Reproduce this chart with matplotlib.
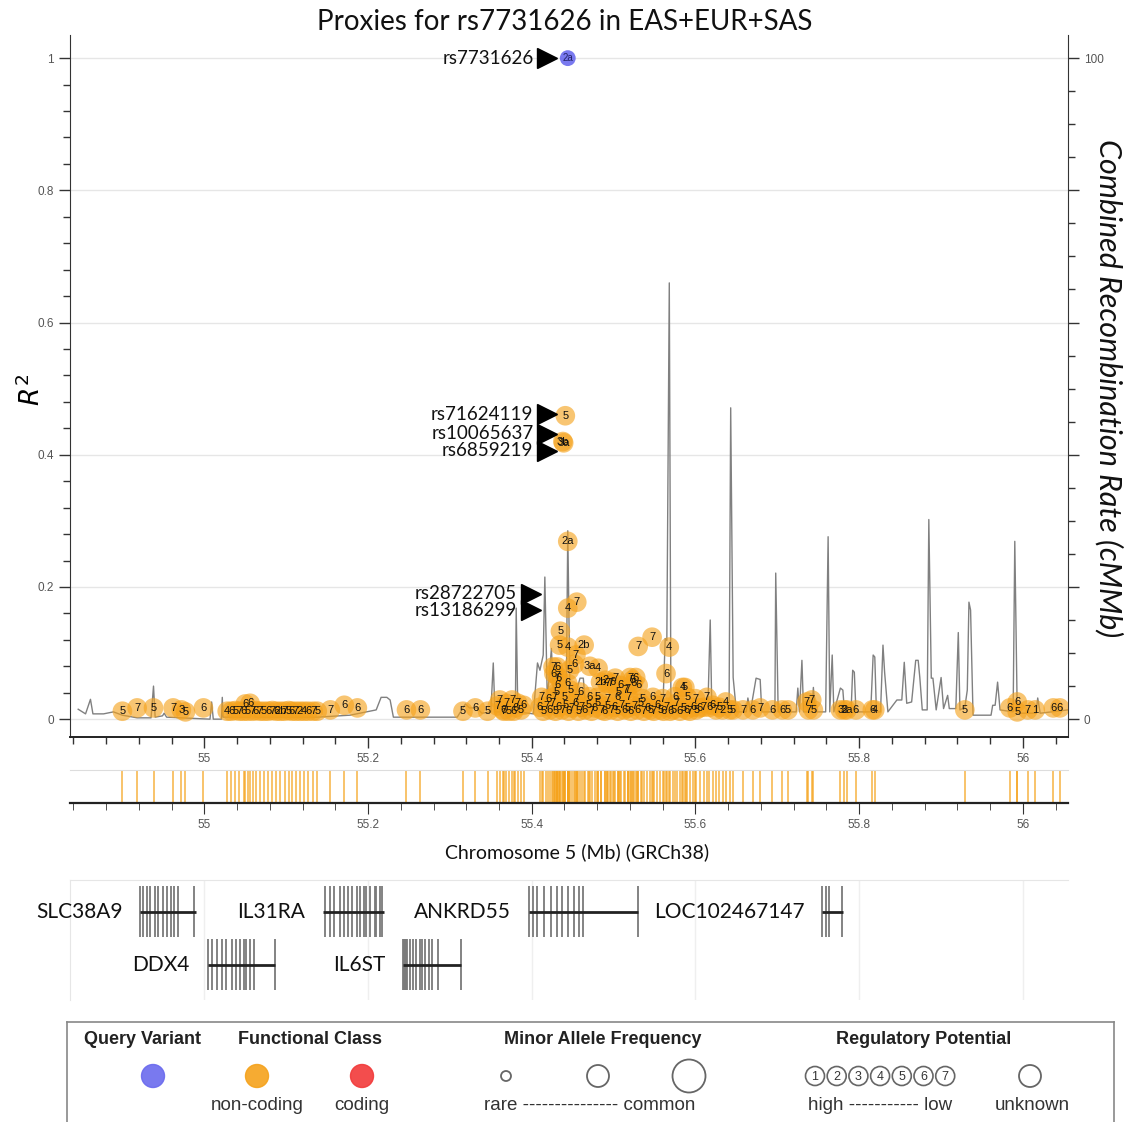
import matplotlib.pyplot as plt
from matplotlib.patches import Circle
from matplotlib.ticker import MultipleLocator

plt.rcParams['font.family'] = ['Lato', 'DejaVu Sans']
plt.rcParams['mathtext.fontset'] = 'dejavusans'

# recombination rate (cM/Mb) along chr5 (Mb)
recomb_pos = [54.846, 54.855, 54.861, 54.864, 54.877, 54.889, 54.900, 54.918, 54.935, 54.938, 54.940,
              54.949, 54.951, 54.954, 55.007, 55.009, 55.011, 55.021, 55.022, 55.023, 55.056, 55.060,
              55.062, 55.138, 55.178, 55.210, 55.216, 55.223, 55.227, 55.231, 55.309, 55.319, 55.324,
              55.333, 55.339, 55.350, 55.353, 55.355, 55.380, 55.381, 55.383, 55.402, 55.407, 55.410,
              55.414, 55.416, 55.419, 55.424, 55.427, 55.442, 55.444, 55.447, 55.459, 55.463, 55.466,
              55.508, 55.560, 55.563, 55.565, 55.568, 55.570, 55.615, 55.618, 55.620, 55.641, 55.643,
              55.646, 55.650, 55.662, 55.664, 55.667, 55.674, 55.679, 55.681, 55.697, 55.698, 55.701,
              55.723, 55.725, 55.727, 55.730, 55.732, 55.742, 55.744, 55.746, 55.759, 55.762, 55.764,
              55.767, 55.769, 55.777, 55.780, 55.782, 55.790, 55.792, 55.794, 55.796, 55.814, 55.817,
              55.819, 55.821, 55.826, 55.829, 55.831, 55.835, 55.846, 55.852, 55.855, 55.858, 55.864,
              55.869, 55.872, 55.874, 55.877, 55.883, 55.885, 55.888, 55.890, 55.894, 55.900, 55.903,
              55.908, 55.910, 55.918, 55.921, 55.923, 55.929, 55.932, 55.934, 55.936, 55.939, 55.961,
              55.963, 55.966, 55.969, 55.972, 55.988, 55.990, 55.993, 56.016, 56.018, 56.021, 56.055]
recomb_rate = [1.5, 0.8, 3.0, 0.8, 0.8, 1.1, 0.6, 0.2, 0.2, 5.0, 0.3,
               0.5, 0.9, 0.3, 0.0, 2.6, 0.0, 0.0, 3.3, 0.3, 0.3, 2.9,
               0.3, 0.3, 0.6, 1.4, 3.3, 3.3, 2.9, 0.3, 0.3, 2.3, 1.7,
               1.7, 0.9, 1.1, 8.5, 1.1, 1.1, 16.8, 1.1, 0.8, 8.5, 7.4,
               9.7, 21.5, 2.9, 10.7, 2.9, 1.1, 28.5, 1.1, 6.2, 6.2, 1.1,
               1.1, 1.1, 12.2, 11.9, 66.0, 1.1, 1.1, 15.0, 1.1, 1.1, 47.1,
               6.3, 1.1, 1.1, 3.2, 1.1, 6.2, 6.0, 1.1, 1.1, 22.1, 1.1,
               1.1, 4.7, 1.1, 8.9, 1.1, 1.1, 4.8, 1.1, 1.1, 27.6, 1.1,
               9.7, 1.1, 4.7, 4.4, 1.1, 1.1, 7.4, 7.1, 1.1, 1.1, 9.7,
               9.4, 1.1, 1.1, 11.2, 7.1, 1.1, 2.9, 2.9, 8.6, 2.4, 2.6,
               8.9, 8.9, 6.3, 1.4, 1.4, 30.2, 6.2, 6.2, 1.4, 6.3, 1.6,
               3.6, 1.6, 1.6, 13.1, 1.4, 1.8, 4.4, 17.7, 16.5, 0.6, 0.6,
               2.1, 2.1, 5.6, 1.4, 1.1, 26.9, 0.9, 0.9, 3.2, 0.9, 1.4]

# query variant
query_name = 'rs7731626'
query_pos = 55.444
query_r2 = 1.0
query_rc = '2a'

# proxy variants: position (Mb), R2, RegulomeDB code
proxy_pos = [
    54.900, 54.918, 54.938, 54.962, 54.972, 54.977, 54.999,
    55.028, 55.033, 55.038, 55.043, 55.048, 55.050, 55.053, 55.056, 55.059, 55.063, 55.068,
    55.073, 55.078, 55.083, 55.088, 55.093, 55.098, 55.103, 55.107, 55.112, 55.117, 55.122,
    55.127, 55.133, 55.138,
    55.154, 55.171, 55.187, 55.247, 55.264, 55.316, 55.331, 55.346,
    55.358, 55.361, 55.365, 55.369, 55.372, 55.376, 55.380, 55.383, 55.387, 55.390, 55.366, 55.378,
    55.441, 55.438, 55.439, 55.444, 55.444, 55.455, 55.435, 55.434, 55.444, 55.464, 55.454,
    55.452, 55.446, 55.471, 55.481, 55.530, 55.547, 55.568, 55.564, 55.584, 55.587,
    55.426, 55.427, 55.431, 55.431, 55.431, 55.431, 55.433, 55.444, 55.447, 55.459,
    55.484, 55.490, 55.492, 55.496, 55.499, 55.502, 55.508, 55.514, 55.520, 55.523, 55.524,
    55.527, 55.530, 55.506, 55.517,
    55.410, 55.414, 55.418, 55.422, 55.425, 55.429, 55.433, 55.437, 55.441, 55.445, 55.449,
    55.453, 55.457, 55.461, 55.465, 55.469, 55.473, 55.477, 55.481, 55.485, 55.489, 55.493,
    55.497, 55.501, 55.505, 55.509, 55.513, 55.517, 55.521, 55.525, 55.529, 55.533, 55.537,
    55.541, 55.545, 55.549, 55.553, 55.557, 55.561, 55.565, 55.569, 55.573, 55.577, 55.581,
    55.585, 55.589, 55.593, 55.597, 55.601, 55.605,
    55.412, 55.420, 55.428, 55.440, 55.455, 55.470, 55.480, 55.492, 55.505, 55.518, 55.535,
    55.548, 55.560, 55.575, 55.590, 55.600,
    55.614, 55.610, 55.617, 55.621, 55.625, 55.629, 55.637, 55.633, 55.642, 55.646, 55.658,
    55.670, 55.679, 55.694, 55.706, 55.713, 55.736, 55.742, 55.738, 55.744, 55.777, 55.782,
    55.785, 55.796, 55.816, 55.819, 55.929, 55.984, 55.993, 55.993, 56.006, 56.015, 56.037,
    56.045]
proxy_r2 = [
    0.012, 0.017, 0.017, 0.017, 0.014, 0.011, 0.017,
    0.012, 0.012, 0.013, 0.012, 0.012, 0.023, 0.012, 0.024, 0.012, 0.013, 0.012,
    0.012, 0.012, 0.013, 0.012, 0.012, 0.012, 0.013, 0.012, 0.012, 0.012, 0.012,
    0.012, 0.012, 0.012,
    0.014, 0.021, 0.017, 0.014, 0.014, 0.012, 0.017, 0.012,
    0.020, 0.029, 0.014, 0.024, 0.012, 0.029, 0.017, 0.024, 0.014, 0.021, 0.012, 0.012,
    0.459, 0.420, 0.418, 0.269, 0.168, 0.177, 0.133, 0.112, 0.109, 0.112, 0.097,
    0.083, 0.074, 0.080, 0.077, 0.110, 0.124, 0.109, 0.069, 0.048, 0.048,
    0.079, 0.069, 0.079, 0.066, 0.051, 0.041, 0.062, 0.054, 0.044, 0.041,
    0.056, 0.059, 0.054, 0.054, 0.056, 0.062, 0.051, 0.044, 0.063, 0.059, 0.054,
    0.063, 0.051, 0.041, 0.046,
    0.018, 0.012, 0.020, 0.014, 0.024, 0.012, 0.018, 0.014, 0.021, 0.012, 0.017,
    0.024, 0.012, 0.018, 0.014, 0.021, 0.012, 0.017, 0.024, 0.014, 0.012, 0.020,
    0.014, 0.018, 0.012, 0.021, 0.014, 0.017, 0.012, 0.020, 0.014, 0.024, 0.012,
    0.017, 0.014, 0.012, 0.021, 0.014, 0.012, 0.018, 0.012, 0.014, 0.024, 0.012,
    0.017, 0.014, 0.012, 0.018, 0.014, 0.017,
    0.033, 0.031, 0.034, 0.033, 0.031, 0.034, 0.033, 0.031, 0.033, 0.034, 0.031,
    0.033, 0.031, 0.034, 0.033, 0.031,
    0.033, 0.018, 0.018, 0.021, 0.014, 0.018, 0.026, 0.014, 0.014, 0.014, 0.014,
    0.014, 0.017, 0.014, 0.014, 0.014, 0.026, 0.029, 0.014, 0.014, 0.014, 0.014,
    0.014, 0.014, 0.014, 0.014, 0.014, 0.017, 0.026, 0.011, 0.014, 0.014, 0.017,
    0.017]
proxy_rc = [
    '5', '7', '5', '7', '3', '5', '6',
    '4', '6', '5', '7', '6', '6', '5', '6', '7', '6', '7',
    '5', '6', '7', '6', '2b', '7', '5', '6', '7', '2', '4', '6', '7', '5',
    '7', '6', '6', '6', '6', '5', '6', '5',
    '7', '7', '6', '7', '5', '7', '6', '7', '5', '6', '7', '6',
    '5', '3b', '3a', '2a', '4', '7', '5', '5', '4', '2b', '7',
    '6', '5', '3a', '4', '7', '7', '4', '6', '4', '5',
    '7', '6', '6', '7', '6', '5', '6', '6', '5', '6',
    '2b', '2', '7', '7', '6', '7', '6', '7', '7', '5', '6',
    '6', '6', '5', '7',
    '6', '5', '7', '6', '7', '5', '6', '7', '5', '6', '7',
    '6', '5', '7', '6', '5', '7', '6', '5', '7', '6', '5',
    '7', '6', '5', '7', '6', '5', '6', '7', '6', '5', '7',
    '6', '5', '7', '6', '5', '6', '7', '6', '5', '7', '6',
    '5', '6', '7', '6', '5', '6',
    '7', '6', '7', '5', '7', '6', '5', '7', '6', '7', '5',
    '6', '7', '6', '5', '7',
    '7', '7', '6', '6', '7', '5', '4', '2', '5', '5', '7',
    '6', '7', '6', '6', '5', '7', '7', '7', '5', '3', '2',
    '3a', '6', '6', '4', '5', '6', '6', '5', '7', '1', '6',
    '6']

# labelled variants
label_names = ['rs7731626', 'rs71624119', 'rs10065637', 'rs6859219', 'rs28722705', 'rs13186299']
label_y = [1.0, 0.461, 0.432, 0.406, 0.190, 0.165]
label_x = [55.402, 55.402, 55.402, 55.402, 55.382, 55.382]

# genes
gene_names = ['SLC38A9', 'IL31RA', 'ANKRD55', 'LOC102467147', 'DDX4', 'IL6ST']
gene_start = [54.922, 55.145, 55.397, 55.755, 55.004, 55.243]
gene_end = [54.990, 55.219, 55.530, 55.780, 55.087, 55.313]
gene_row = [0, 0, 0, 0, 1, 1]
gene_exons = [
    [54.922, 54.925, 54.930, 54.934, 54.940, 54.944, 54.949, 54.954, 54.959, 54.963, 54.968, 54.988],
    [55.148, 55.154, 55.159, 55.166, 55.171, 55.176, 55.181, 55.186, 55.190, 55.195, 55.198, 55.203,
     55.208, 55.210, 55.215, 55.217],
    [55.397, 55.402, 55.407, 55.415, 55.424, 55.431, 55.437, 55.444, 55.452, 55.458, 55.462, 55.530],
    [55.755, 55.760, 55.763, 55.779],
    [55.004, 55.009, 55.015, 55.022, 55.027, 55.034, 55.039, 55.044, 55.048, 55.051, 55.056, 55.061,
     55.087],
    [55.243, 55.244, 55.245, 55.246, 55.248, 55.251, 55.255, 55.259, 55.263, 55.266, 55.270, 55.274,
     55.278, 55.286, 55.313],
]

xticks = [55, 55.2, 55.4, 55.6, 55.8, 56]
xlim = (54.836, 56.055)
ylim = (-0.027, 1.035)

ORANGE = '#F5A21B'
BLUE = '#6A6AEE'
RED = '#F23A3A'
TICKC = '#555555'
SANS = ['Liberation Sans', 'DejaVu Sans']
NARROW = ['Liberation Sans Narrow', 'Liberation Sans', 'DejaVu Sans']

fig = plt.figure(figsize=(11.31, 11.22), dpi=100)
W, H = 1131, 1122


def frame(l, t, r, b):
    return [l / W, 1 - b / H, (r - l) / W, (b - t) / H]


# ---------- main LD plot ----------
ax = fig.add_axes(frame(70, 35, 1068, 737))
ax2 = ax.twinx()
ax.set_zorder(ax2.get_zorder() + 1)
ax.patch.set_visible(False)

ax2.plot(recomb_pos, recomb_rate, color='#808080', lw=1.0, zorder=1)
ax2.set_ylim(ylim[0] * 100, ylim[1] * 100)
ax2.yaxis.set_minor_locator(MultipleLocator(5))
ax2.set_yticks([0, 20, 40, 60, 80, 100])
ax2.set_yticklabels(['0', '', '', '', '', '100'])
ax2.grid(True, color='#e6e6e6', lw=1)
ax2.set_axisbelow(True)

ax.scatter(proxy_pos, proxy_r2, s=200, color=ORANGE, alpha=0.62, edgecolors='none', zorder=3)
for x, y, c in zip(proxy_pos, proxy_r2, proxy_rc):
    ax.text(x, y, c, fontsize=8, ha='center', va='center', color='#111111', family=SANS, zorder=4)
ax.scatter([query_pos], [query_r2], s=130, color=BLUE, alpha=0.9, edgecolors='none', zorder=3)
ax.text(query_pos, query_r2, query_rc, fontsize=7, ha='center', va='center', color='#222266',
        family=SANS, zorder=4)

for name, x, y in zip(label_names, label_x, label_y):
    ax.text(x, y, name, fontsize=13.5, ha='right', va='center', color='#111111', zorder=5)
    ax.plot(x + 0.017, y, marker='>', color='black', ms=14, zorder=5)

ax.set_xlim(*xlim)
ax.set_ylim(*ylim)
ax.set_xticks(xticks)
ax.set_xticklabels(['55', '55.2', '55.4', '55.6', '55.8', '56'])
ax.xaxis.set_minor_locator(MultipleLocator(0.04))
ax.set_yticks([0, 0.2, 0.4, 0.6, 0.8, 1.0])
ax.set_yticklabels(['0', '0.2', '0.4', '0.6', '0.8', '1'])
ax.yaxis.set_minor_locator(MultipleLocator(0.04))

for a in (ax, ax2):
    a.spines['top'].set_visible(False)
    a.tick_params(which='major', length=8, width=1, color='#333333', labelsize=8.5, labelcolor=TICKC)
    a.tick_params(which='minor', length=5, width=1, color='#333333')
    for lab in a.get_xticklabels() + a.get_yticklabels():
        lab.set_family(SANS)
ax.spines['right'].set_visible(False)
ax2.spines['left'].set_visible(False)
ax2.spines['bottom'].set_visible(False)
ax.spines['left'].set_color('#333333')
ax.spines['bottom'].set_color('#222222')
ax.spines['bottom'].set_linewidth(1.4)
ax2.spines['right'].set_color('#333333')

fig.text(565 / W, 1 - 22 / H, 'Proxies for rs7731626 in EAS+EUR+SAS', fontsize=20,
         ha='center', va='center', color='#111111')
fig.text(31 / W, 1 - 390 / H, r'$\mathit{R}^2$', fontsize=19, rotation=90, ha='center', va='center')
fig.text(1109 / W, 1 - 388 / H, 'Combined Recombination Rate (cMMb)', fontsize=22, style='italic',
         rotation=-90, ha='center', va='center', color='#111111')

# ---------- variant position strip ----------
axs = fig.add_axes(frame(70, 770, 1068, 803))
axs.vlines(proxy_pos + [query_pos], 0, 1, color=ORANGE, alpha=0.65, lw=1.4)
axs.set_xlim(*xlim)
axs.set_ylim(0, 1)
axs.set_yticks([])
axs.set_xticks(xticks)
axs.set_xticklabels(['55', '55.2', '55.4', '55.6', '55.8', '56'])
axs.xaxis.set_minor_locator(MultipleLocator(0.04))
axs.tick_params(which='major', length=8, color='#333333', labelsize=8.5, labelcolor=TICKC)
axs.tick_params(which='minor', length=5, color='#333333')
for lab in axs.get_xticklabels():
    lab.set_family(SANS)
for s in ('left', 'right'):
    axs.spines[s].set_visible(False)
axs.spines['top'].set_color('#dddddd')
axs.spines['bottom'].set_color('#222222')
axs.spines['bottom'].set_linewidth(1.6)
fig.text(577 / W, 1 - 852 / H, 'Chromosome 5 (Mb) (GRCh38)', fontsize=14, ha='center', va='center',
         color='#111111')

# ---------- gene track ----------
axg = fig.add_axes(frame(70, 880, 1068, 1000))
axg.set_xlim(*xlim)
axg.set_ylim(2.264, 0)
axg.set_xticks(xticks)
axg.grid(True, axis='x', color='#efefef', lw=1)
axg.set_axisbelow(True)
axg.tick_params(length=0, labelbottom=False, labelleft=False)
for s in ('bottom', 'right'):
    axg.spines[s].set_visible(False)
axg.spines['top'].set_color('#e6e6e6')
axg.spines['left'].set_color('#e6e6e6')
for name, g0, g1, row, exons in zip(gene_names, gene_start, gene_end, gene_row, gene_exons):
    yc = 0.60 + row
    axg.vlines(exons, yc - 0.48, yc + 0.48, color='#7a7a7a', lw=1.3)
    axg.hlines(yc, g0, g1, color='#222222', lw=2)
    axg.annotate(name, (g0, yc), xytext=(-13, 0), textcoords='offset points', ha='right', va='center',
                 fontsize=15, color='#111111')

# ---------- legend box ----------
axl = fig.add_axes([67 / W, 0, 1047 / W, 100 / H])
axl.set_xlim(0, 1047)
axl.set_ylim(100, 0)
axl.set_xticks([])
axl.set_yticks([])
axl.spines['bottom'].set_visible(False)
for s in ('top', 'left', 'right'):
    axl.spines[s].set_color('#888888')
    axl.spines[s].set_linewidth(1.2)

heads = [('Query Variant', 76), ('Functional Class', 243), ('Minor Allele Frequency', 536),
         ('Regulatory Potential', 857)]
for txt, x in heads:
    axl.text(x, 18, txt, fontsize=13, fontweight='bold', ha='center', va='center', family=NARROW,
             color='#222222')
for x, c in [(86, BLUE), (190, ORANGE), (295, RED)]:
    axl.add_patch(Circle((x, 54), 11.5, color=c, alpha=0.9))
for x, r in [(439, 5), (531, 11), (622, 16.5)]:
    axl.add_patch(Circle((x, 54), r, fill=False, ec='#666666', lw=1.3))
for i in range(7):
    x = 748 + i * 21.7
    axl.add_patch(Circle((x, 54), 9.5, fill=False, ec='#666666', lw=1.2))
    axl.text(x, 54.5, str(i + 1), fontsize=9, ha='center', va='center', family=NARROW, color='#333333')
axl.add_patch(Circle((963, 54), 11, fill=False, ec='#666666', lw=1.3))
bottoms = [('non-coding', 190), ('coding', 295), ('rare --------------- common', 523),
           ('high ----------- low', 813), ('unknown', 965)]
for txt, x in bottoms:
    axl.text(x, 84, txt, fontsize=13.5, ha='center', va='center', family=NARROW, color='#333333')

fig.savefig('out.png', dpi=100)
